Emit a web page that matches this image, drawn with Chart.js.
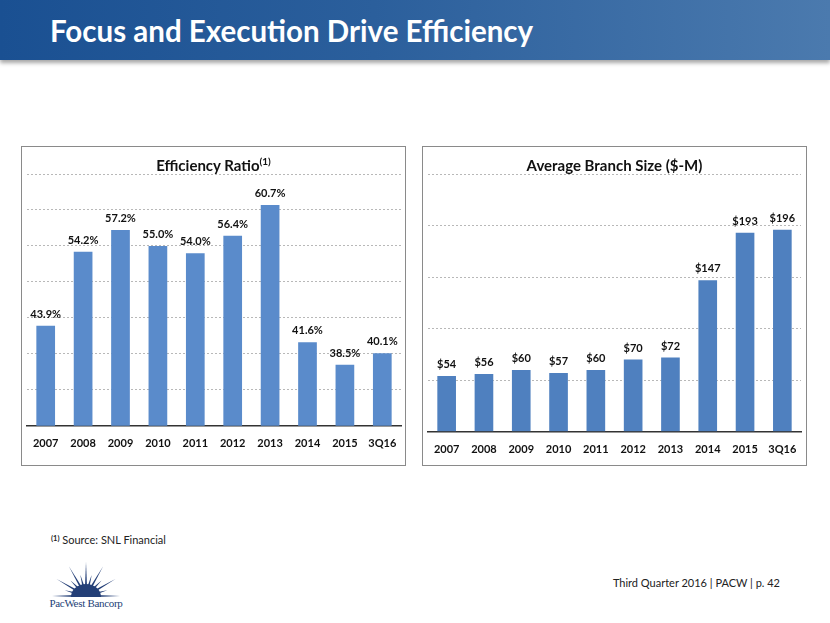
<!DOCTYPE html>
<html>
<head>
<meta charset="utf-8">
<script src="https://cdn.jsdelivr.net/npm/chart.js@4/dist/chart.umd.min.js"></script>
<style>
  body { margin: 0; width: 830px; height: 623px; background: #fff; position: relative; overflow: hidden; font-family: Lato, "Open Sans", sans-serif; }
  .header { position: absolute; left: 0; top: 0; width: 830px; height: 60px;
    background: linear-gradient(to right, #1a5092 0%, #2b5f9c 45%, #4b7aae 100%);
    box-shadow: 0 3px 4px rgba(0,0,0,0.35); }
  .header h1 { margin: 0; position: absolute; left: 50px; top: 14px; color: #fff; font-size: 29.5px; font-weight: 700; line-height: 34px; }
  .panel { position: absolute; top: 146px; width: 385px; height: 320px; border: 1px solid #8a8a8a; box-sizing: border-box; }
  .panel canvas { position: absolute; left: 0; top: 0; }
  .ptitle { position: absolute; left: 0; right: 0; top: 8px; text-align: center; font-size: 15px; font-weight: 700; color: #111; line-height: 20px; }
  .ptitle sup { font-size: 10px; vertical-align: 6px; line-height: 0; }
  .note { position: absolute; left: 51px; top: 533px; font-size: 11px; color: #222; }
  .note sup { font-size: 7.5px; font-weight: 700; vertical-align: 3px; }
  .footer { position: absolute; right: 50px; top: 576px; font-size: 11px; color: #222; }
</style>
</head>
<body>
<div class="header"><h1>Focus and Execution Drive Efficiency</h1></div>

<div class="panel" style="left:21px">
  <canvas id="ratioChart" width="383" height="318"></canvas>
  <div class="ptitle">Efficiency Ratio<sup>(1)</sup></div>
</div>
<div class="panel" style="left:422px">
  <canvas id="branchChart" width="383" height="318"></canvas>
  <div class="ptitle">Average Branch Size ($-M)</div>
</div>

<div class="note"><sup>(1)</sup> Source: SNL Financial</div>

<svg style="position:absolute;left:48px;top:560px" width="76" height="52" viewBox="0 0 76 52">
  <g fill="#243f77" id="rays"></g>
  <text x="38" y="47" text-anchor="middle" font-family="'Liberation Serif', serif" font-size="11" letter-spacing="-0.3" fill="#243f77">PacWest Bancorp</text>
</svg>

<div class="footer">Third Quarter 2016 | PACW | p. 42</div>

<script>
const years = ["2007", "2008", "2009", "2010", "2011", "2012", "2013", "2014", "2015", "3Q16"];
const efficiencyRatio = [43.9, 54.2, 57.2, 55.0, 54.0, 56.4, 60.7, 41.6, 38.5, 40.1];
const branchSize = [54, 56, 60, 57, 60, 70, 72, 147, 193, 196];
const ratioAxis = [30, 65, 5];   // min, max, step
const branchAxis = [0, 250, 50];

// logo rays
const rays = document.getElementById("rays");
for (let i = 0; i <= 12; i++) {
  const a = Math.PI * (i / 12);
  const len = (i % 2 === 0) ? 34 : 22;
  const cx = 38, cy = 36;
  const tx = cx - Math.cos(a) * len, ty = cy - Math.sin(a) * len;
  const w = 0.1;
  const bx1 = cx - Math.cos(a - w) * 10, by1 = cy - Math.sin(a - w) * 10;
  const bx2 = cx - Math.cos(a + w) * 10, by2 = cy - Math.sin(a + w) * 10;
  const p = document.createElementNS("http://www.w3.org/2000/svg", "polygon");
  p.setAttribute("points", `${bx1},${by1} ${tx},${ty} ${bx2},${by2}`);
  rays.appendChild(p);
}
const arc = document.createElementNS("http://www.w3.org/2000/svg", "path");
arc.setAttribute("d", "M23 37 A15 13 0 0 1 53 37 Z");
rays.appendChild(arc);

const barLabels = {
  id: "barLabels",
  afterDatasetsDraw(chart, args, opts) {
    const ctx = chart.ctx;
    const meta = chart.getDatasetMeta(0);
    const data = chart.data.datasets[0].data;
    ctx.save();
    ctx.font = "bold 11px Lato, sans-serif";
    ctx.fillStyle = "#111";
    ctx.textAlign = "center";
    ctx.textBaseline = "bottom";
    meta.data.forEach((bar, i) => {
      ctx.fillText(opts.format(data[i]), bar.x, bar.y - 6);
    });
    ctx.restore();
  }
};

function makeChart(id, values, axis, color, pad, fmt) {
  return new Chart(document.getElementById(id), {
    type: "bar",
    data: {
      labels: years,
      datasets: [{
        data: values,
        backgroundColor: color,
        categoryPercentage: 1,
        barPercentage: 0.5,
      }],
    },
    options: {
      responsive: false,
      animation: false,
      layout: { padding: pad },
      plugins: {
        legend: { display: false },
        tooltip: { enabled: false },
        barLabels: { format: fmt },
      },
      scales: {
        x: {
          grid: { display: false },
          border: { display: true, color: "#333", width: 1.5 },
          ticks: { color: "#111", padding: 3, font: { family: "Lato", size: 11, weight: "bold" }, maxRotation: 0 },
        },
        y: {
          min: axis[0],
          max: axis[1],
          ticks: { display: false, stepSize: axis[2] },
          grid: { color: "#b8b8b8", lineWidth: 1, drawTicks: false },
          border: { display: false, dash: [2, 2] },
        },
      },
    },
    plugins: [barLabels],
  });
}

makeChart("ratioChart", efficiencyRatio, ratioAxis, "#5a8bcb",
  { top: 27, left: 5, right: 4, bottom: 12 }, v => v.toFixed(1) + "%");
makeChart("branchChart", branchSize, branchAxis, "#4f80bf",
  { top: 27, left: 5, right: 5, bottom: 6 }, v => "$" + v);
</script>
</body>
</html>
